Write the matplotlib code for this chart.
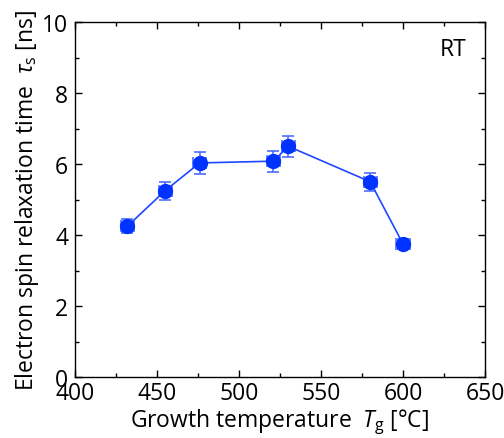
import matplotlib
matplotlib.use('Agg')
import matplotlib.pyplot as plt
from matplotlib.ticker import MultipleLocator

plt.rcParams['font.family'] = ['Open Sans', 'DejaVu Sans']
plt.rcParams['mathtext.fontset'] = 'custom'
plt.rcParams['mathtext.rm'] = 'Open Sans'
plt.rcParams['mathtext.it'] = 'Open Sans:italic'

# growth temperature (degC) and spin relaxation time (ns)
temp = [432, 455, 476, 521, 530, 580, 600]
tau = [4.25, 5.25, 6.03, 6.08, 6.5, 5.5, 3.75]
tau_err = [0.2, 0.25, 0.3, 0.3, 0.3, 0.25, 0.15]
temp_err = [4, 4, 4, 4, 4, 4, 4]

fig = plt.figure(figsize=(5.04, 4.39), dpi=100)
ax = fig.add_axes([75 / 504, 61 / 439, 410 / 504, 355 / 439])

ax.errorbar(temp, tau, yerr=tau_err, xerr=temp_err, fmt='none',
            ecolor='#4f6dff', elinewidth=1.2, capsize=4, capthick=1.2, zorder=2)
ax.plot(temp, tau, '-', color='#1f47ff', lw=1.2, zorder=3)
ax.plot(temp, tau, 'o', color='#0033ff', ms=10, zorder=4)

ax.set_xlim(400, 650)
ax.set_ylim(0, 10)
ax.xaxis.set_major_locator(MultipleLocator(50))
ax.xaxis.set_minor_locator(MultipleLocator(25))
ax.yaxis.set_major_locator(MultipleLocator(2))
ax.yaxis.set_minor_locator(MultipleLocator(1))
ax.tick_params(which='both', direction='in', top=True, right=True,
               labelsize=16.5)
ax.tick_params(axis='x', pad=3)
ax.tick_params(axis='y', pad=5)
ax.tick_params(which='major', length=5, width=1)
ax.tick_params(which='minor', length=3, width=1)
for s in ax.spines.values():
    s.set_linewidth(1)

ax.set_xlabel(r'Growth temperature  $T_{\mathrm{g}}$ [°C]', fontsize=16.5, labelpad=1)
ax.set_ylabel(r'Electron spin relaxation time  $\tau_{\mathrm{s}}$ [ns]', fontsize=16.5, labelpad=1)
ax.text(0.955, 0.925, 'RT', transform=ax.transAxes, ha='right', va='center', fontsize=16.5)

fig.savefig('out.png', dpi=100)
